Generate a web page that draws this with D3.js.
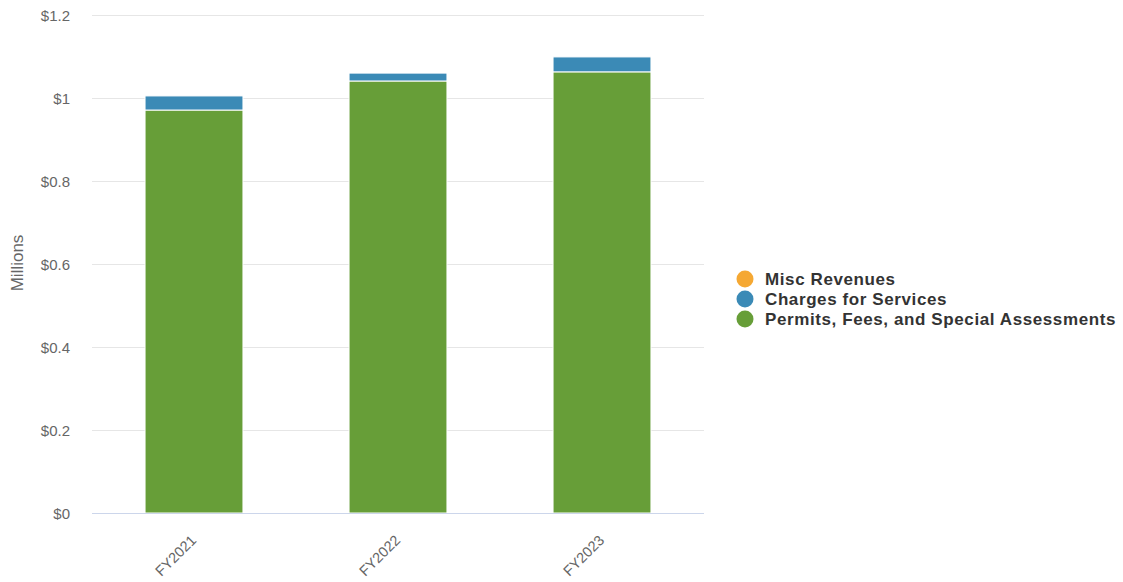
<!DOCTYPE html>
<html>
<head>
<meta charset="utf-8">
<script src="https://cdn.jsdelivr.net/npm/d3@7/dist/d3.min.js"></script>
<style>
  html, body { margin: 0; padding: 0; background: #fff; }
  svg { display: block; font-family: "Liberation Sans", Arial, Helvetica, sans-serif; }
</style>
</head>
<body>
<svg id="chart" width="1123" height="582"></svg>
<script>
// Revenue by fiscal year, in millions of dollars
const categories = ["FY2021", "FY2022", "FY2023"];
const permitsFees = [0.971, 1.041, 1.063];
const chargesForServices = [0.034, 0.019, 0.036];
const miscRevenues = [0, 0, 0];
const yTicks = [0, 0.2, 0.4, 0.6, 0.8, 1.0, 1.2];
const yTickLabels = ["$0", "$0.2", "$0.4", "$0.6", "$0.8", "$1", "$1.2"];

const seriesNames = ["Misc Revenues", "Charges for Services", "Permits, Fees, and Special Assessments"];
const seriesColors = ["#f5a833", "#3b8ab6", "#679e38"];

const svg = d3.select("#chart");
const margin = { left: 92, right: 704, top: 15, bottom: 513 };

const x = d3.scaleBand().domain(categories).range([margin.left, margin.right]).paddingInner(0.52).paddingOuter(0.26);
const y = d3.scaleLinear().domain([0, 1.2]).range([margin.bottom, margin.top]);

// gridlines
svg.append("g").selectAll("line").data(yTicks.slice(1)).join("line")
  .attr("x1", margin.left).attr("x2", margin.right)
  .attr("y1", d => Math.round(y(d)) + 0.5).attr("y2", d => Math.round(y(d)) + 0.5)
  .attr("stroke", "#e6e6e6").attr("stroke-width", 1);

// y tick labels
svg.append("g").selectAll("text").data(yTicks).join("text")
  .attr("x", 70).attr("y", d => y(d) + 5.5)
  .attr("text-anchor", "end").attr("fill", "#666").attr("font-size", "15px")
  .text((d, i) => yTickLabels[i]);

// y axis title
svg.append("text")
  .attr("transform", `translate(23, ${(margin.top + margin.bottom) / 2 - 1}) rotate(-90)`)
  .attr("text-anchor", "middle").attr("fill", "#666").attr("font-size", "17px")
  .text("Millions");

// stacked bars
const rows = categories.map((c, i) => ({
  cat: c, permits: permitsFees[i], charges: chargesForServices[i], misc: miscRevenues[i]
}));
const stack = d3.stack().keys(["permits", "charges", "misc"]);
const stacked = stack(rows);
const colorByKey = { permits: seriesColors[2], charges: seriesColors[1], misc: seriesColors[0] };

svg.append("g").selectAll("g").data(stacked).join("g")
  .attr("fill", d => colorByKey[d.key])
  .selectAll("rect").data(d => d.filter(s => s[1] - s[0] > 0)).join("rect")
  .attr("x", d => x(d.data.cat))
  .attr("width", x.bandwidth())
  .attr("y", d => y(d[1]))
  .attr("height", d => y(d[0]) - y(d[1]))
  .attr("stroke", "#fff").attr("stroke-width", 1);

// x axis line
svg.append("line")
  .attr("x1", margin.left).attr("x2", margin.right)
  .attr("y1", margin.bottom + 0.5).attr("y2", margin.bottom + 0.5)
  .attr("stroke", "#ccd6eb").attr("stroke-width", 1);

// x labels rotated
svg.append("g").selectAll("text").data(categories).join("text")
  .attr("transform", d => `translate(${x(d) + x.bandwidth() / 2 - 4}, 534) rotate(-45)`)
  .attr("text-anchor", "end").attr("fill", "#666").attr("font-size", "14.5px")
  .attr("dy", "0.7em")
  .text(d => d);

// legend
const legend = svg.append("g");
seriesNames.forEach((name, i) => {
  const ly = 279 + i * 20;
  legend.append("circle").attr("cx", 745).attr("cy", ly).attr("r", 8.5).attr("fill", seriesColors[i]);
  legend.append("text").attr("x", 765).attr("y", ly + 6)
    .attr("fill", "#333").attr("font-size", "17px").attr("font-weight", "bold")
    .attr("letter-spacing", "0.6px")
    .text(name);
});
</script>
</body>
</html>
